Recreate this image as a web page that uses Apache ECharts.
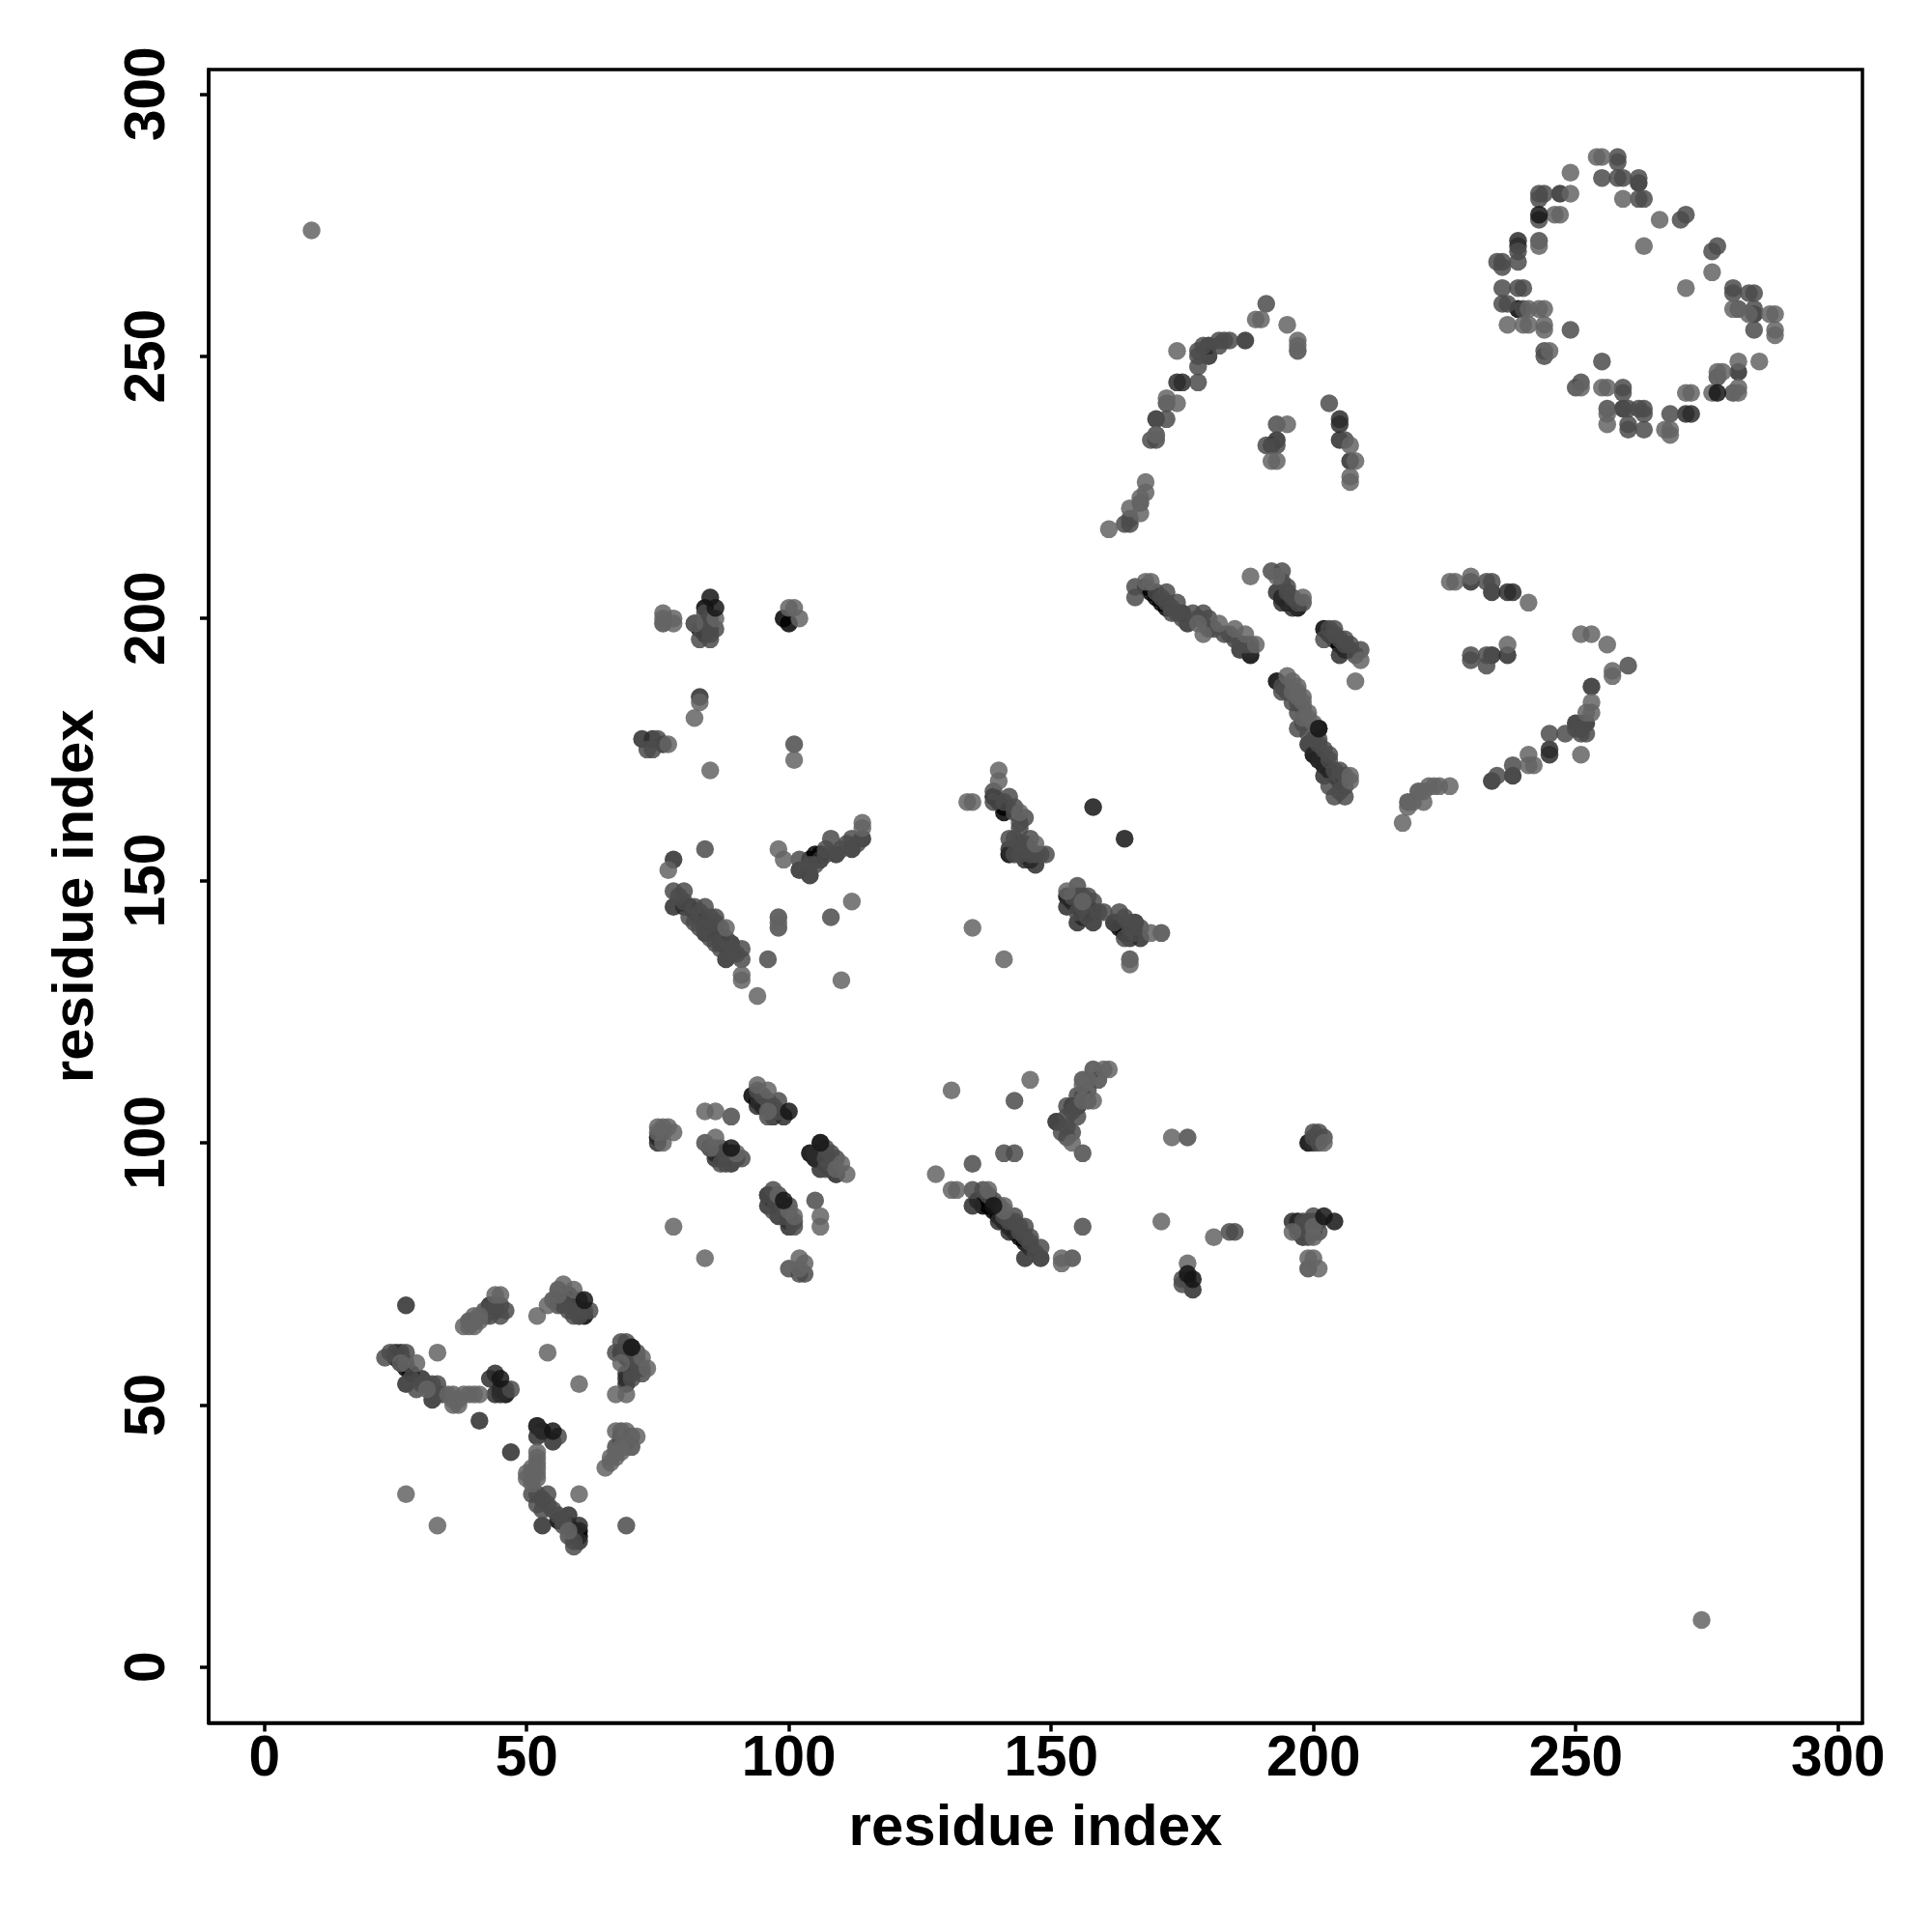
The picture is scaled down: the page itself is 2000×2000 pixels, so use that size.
<!DOCTYPE html>
<html>
<head>
<meta charset="utf-8">
<style>html,body{margin:0;padding:0;background:#fff}#c{width:2000px;height:2000px}</style>
<script src="https://cdn.jsdelivr.net/npm/echarts@6/dist/echarts.min.js"></script>
</head>
<body>
<div id="c"></div>
<script>
var axisTitle = 'residue index';
var tickValues = [0, 50, 100, 150, 200, 250, 300];

var stripePoints = [
[26,58],[27,57],[28,56],[25,59],[43,69],[58,70],[59,69],[60,68],[61,67],[68,60],[69,59],[70,58],[71,57],[45,53],[46,52],[52,46],[53,45],[68,44],[69,43],[56,28],[58,27],[60,25],[59,26],[60,26],
[85,99],[86,98],[87,97],[88,97],[89,98],[93,109],[94,108],[95,107],[97,106],[104,98],[105,97],[107,96],[108,95],[109,94],[96,90],[97,89],[98,88],[99,87],[100,86],[75,101],
[136,89],[137,88],[138,88],[139,87],[140,86],[141,85],[142,84],[143,83],[144,82],[145,81],[154,107],[155,107],[151,104],[197,85],[197,84],[198,83],[199,100],
[84,202],[83,198],[84,197],[82,199],[99,200],[100,199],
[81,145],[82,144],[83,143],[84,142],[85,141],[86,140],[87,139],[87,138],[104,154],[105,155],[106,155],
[139,166],[140,165],[141,164],[141,163],[142,155],[144,156],[145,155],[146,154],[153,147],[154,146],[155,145],[156,144],[156,143],[157,145],[158,144],[162,142],[163,141],[164,140],[165,140],
[168,206],[169,205],[170,204],[171,203],[172,202],[194,204],[195,203],[196,203],[197,202],[202,198],[203,197],[204,196],[205,195],[206,194],[193,188],[200,174],[201,173],[202,172],[203,171],[204,170],[205,169],[188,193],[239,259]
];

var darkPoints = [
[27,69],[41,47],[47,41],[43,68],[44,68],[44,56],[43,55],[44,52],[45,52],[46,53],[52,44],[55,43],[52,46],[25,60],[26,60],[27,54],[32,51],[30,55],[53,27],[60,27],[60,24],[58,29],
[69,54],[69,55],[69,56],[68,60],[60,67],[57,71],[58,71],[56,70],[75,100],[86,97],[89,96],[94,109],[94,107],[97,105],[99,105],[105,98],[105,97],[106,95],[96,88],[98,86],[100,84],[100,85],
[135,88],[140,85],[142,83],[145,78],[148,78],[146,80],[176,74],[177,72],[199,84],[198,82],[200,100],[196,85],
[83,185],[72,177],[74,177],[76,176],[78,154],[78,145],[80,145],[89,138],[88,135],[84,140],[102,152],[104,151],[106,154],[109,155],[112,156],[114,158],
[142,156],[145,154],[147,153],[153,145],[155,142],[158,142],[165,139],[167,139],[166,142],[193,205],[194,203],[196,202],[205,193],[207,194],[186,194],[188,194],[175,201],[176,199],[201,179],[199,176],[201,173],[202,170],
[230,207],[234,205],[237,205],[238,205],[253,187],[252,180],[250,180],[245,175],[245,174],[238,170],[234,169],[234,193],[237,193],
[187,253],[180,252],[180,250],[174,245],[175,245],[170,238],[205,238],[205,237],[205,234],[207,230],[193,234],[192,233],
[239,272],[239,271],[247,281],[262,283],[259,240],[271,239],[272,239],[281,247],[284,258]
];

var midPoints = [
[69,27],[45,69],[46,68],[45,67],[39,66],[40,66],[42,67],[42,68],[56,72],[55,70],[57,69],[59,67],[60,67],[62,68],[47,53],[56,44],[24,60],[27,60],[27,58],[23,59],[32,54],[33,54],[29,53],[34,52],[54,33],[54,31],[51,33],[56,29],[59,23],
[28,55],[30,54],[31,54],[32,52],[33,52],[53,32],[53,30],[52,33],[52,31],[55,30],[57,27],[58,25],[59,24],[57,28],[60,70],[57,70],[56,69],[58,68],[59,68],[61,68],[43,69],[44,69],[43,67],[68,43],[67,42],[68,45],[70,44],[70,42],[70,61],[69,62],[71,60],[70,59],[71,58],[72,57],[70,56],[70,55],
[68,62],[67,60],[69,60],[72,56],[71,59],[89,105],[84,100],[86,99],[88,96],[91,97],[98,108],[97,91],[96,90],[105,89],[106,100],[108,98],[100,76],[102,75],[103,75],
[87,99],[88,98],[87,96],[90,97],[94,110],[95,109],[96,108],[97,107],[98,106],[96,105],[107,99],[109,97],[107,97],[108,96],[107,95],[109,94],[98,90],[99,88],[100,88],[97,87],[99,86],[101,85],[101,84],
[143,108],[135,96],[141,98],[143,98],[156,84],[154,78],[156,98],[176,101],[135,91],[137,91],[143,86],[145,84],[148,80],[153,107],[155,109],[154,106],[153,105],[151,104],[152,102],[154,102],[158,114],[156,112],[159,112],[175,74],[175,73],[184,83],[185,83],[198,84],[200,102],[202,101],[199,76],[200,86],
[138,90],[139,89],[140,88],[141,86],[142,85],[143,85],[144,84],[144,83],[145,82],[146,82],[146,81],[147,79],[155,107],[156,109],[157,110],[157,108],[155,105],[153,103],[153,101],[198,85],[197,83],[199,85],[201,85],[201,83],[199,82],[200,85],[200,83],[201,102],[200,101],[201,100],
[101,176],[85,198],[83,196],[85,196],[76,199],[73,175],[74,175],[75,177],[84,156],[112,158],[108,158],[102,154],[104,153],[108,143],[98,143],[98,141],[96,135],[91,137],[91,135],[78,148],[80,148],[84,145],[86,143],[82,142],
[85,197],[84,199],[85,200],[84,201],[85,199],[86,198],[76,102],[103,152],[105,153],[107,155],[107,156],[110,156],[111,157],[113,157],[79,147],[80,146],[82,145],[83,144],[85,143],[86,142],[87,141],[88,139],[89,137],[90,136],[85,139],[86,138],[87,137],[83,141],[84,141],[81,143],[89,136],
[139,165],[139,167],[142,166],[141,165],[143,164],[144,160],[142,158],[146,158],[149,155],[148,155],[155,149],[160,144],[157,147],[164,143],[163,144],[162,142],[171,140],[165,135],
[143,163],[144,161],[145,162],[143,158],[144,157],[145,157],[146,156],[147,155],[143,155],[144,155],[146,155],[154,147],[155,147],[156,147],[155,144],[156,145],[157,143],[158,146],[159,144],[165,142],[165,141],[166,140],[164,139],[167,141],
[166,206],[166,204],[172,205],[174,203],[177,201],[179,201],[192,209],[194,209],[195,206],[202,196],[206,196],[204,198],[209,194],[201,177],[203,174],[204,166],[206,166],[194,186],[197,182],[197,179],
[170,205],[171,204],[172,203],[173,202],[173,201],[174,201],[175,200],[178,200],[180,200],[180,198],[181,198],[183,197],[184,197],[185,196],[186,195],[187,195],[188,195],[194,207],[195,205],[196,204],[197,203],[198,203],[203,198],[204,197],[205,196],[206,195],[207,195],[208,193],[194,187],[195,187],[195,186],[196,184],[197,184],[198,183],[198,180],[199,178],[200,177],[201,176],[202,175],[203,173],[204,171],[205,171],[206,170],[205,170],[206,168],[205,167],[203,168],
[233,207],[234,207],[245,178],[248,178],[252,178],[238,172],[235,170],[233,191],[233,193],[230,193],[230,192],[260,191],[218,165],[220,167],
[251,178],[251,180],[251,179],[250,179],
[191,260],[184,253],[183,253],[182,253],[182,252],[178,251],[179,252],[178,250],[178,248],[178,245],[172,238],[170,235],[169,234],[170,234],[172,241],[167,222],[165,219],[165,218],[164,218],[203,241],[206,234],[193,237],[191,233],[193,233],[197,251],
[243,281],[244,281],[243,280],[243,276],[243,272],[239,270],[236,268],[235,268],[236,267],[239,268],[236,263],[240,263],[239,263],[236,260],[237,260],[240,259],[249,255],[244,250],[244,251],[251,245],[250,244],[259,244],[259,243],[258,288],[258,287],[255,284],[258,284],[259,284],[262,284],[263,280],[262,280],[270,276],[271,277],[276,270],[277,271],[280,263],[280,262],[283,262],[284,262],[284,259],[284,255],[281,259],[256,240],[260,240],[262,240],[263,240],[263,239],[260,237],[260,236],[263,236],[268,239],[277,246],[280,243],[255,249]
];

var lightPoints = [
[33,60],[54,60],[60,54],[27,33],[33,27],[60,33],[67,52],[52,67],[44,71],[45,71],[38,65],[39,65],[40,65],[41,66],[40,67],[41,67],[54,69],[56,71],[57,73],[59,72],[29,58],[26,58],[31,53],[35,52],[36,52],[36,50],[37,50],[38,52],[39,52],[40,52],[41,52],
[37,51],[36,51],[51,37],[51,38],[52,37],[52,40],[51,36],
[52,41],[52,39],[52,38],[52,36],[50,37],[50,36],[51,35],[58,26],[71,44],[67,45],[69,45],[65,38],[66,39],[66,40],[67,40],[68,41],[69,42],[67,41],[68,42],[72,59],[73,57],[68,58],[69,52],
[78,84],[84,78],[84,106],[86,106],[75,103],[76,103],[77,103],[78,102],[75,102],[76,100],[86,101],[85,99],[90,98],[94,111],[96,110],[96,106],[101,86],[100,87],[110,96],[111,94],[109,95],[106,86],[106,84],[102,78],[103,77],[102,76],[98,90],
[131,110],[146,112],[128,94],[131,91],[132,91],[138,91],[141,88],[141,87],[152,77],[152,78],[173,101],[171,85],[181,82],[176,77],[161,114],[160,114],[157,112],[158,108],[156,108],[156,111],[154,100],[196,83],[200,84],[200,82],[199,78],[200,78],[201,76],[202,100],
[100,202],[101,202],[102,200],[86,200],[82,199],[76,201],[78,200],[78,199],[76,200],[83,184],[82,181],[77,176],[85,171],[101,173],
[77,152],[98,156],[99,154],[114,161],[114,160],[112,146],[110,131],[91,132],[91,131],[94,128],[88,141],[98,142],
[140,171],[140,169],[134,165],[135,165],[144,163],[147,157],[135,141],[141,135],[169,140],[165,134],[156,146],[153,148],
[188,208],[193,208],[198,204],[208,188],[209,192],[168,207],[169,207],[182,199],[185,198],[187,197],[189,195],[179,197],[178,199],[195,189],[197,187],[198,185],[199,182],[207,170],[207,169],
[196,188],[196,186],[197,186],[197,185],[198,184],[199,181],[198,181],[200,180],
[226,207],[227,207],[230,208],[241,203],[251,197],[253,197],[256,195],[257,190],[257,189],[253,184],[252,182],[253,182],[251,174],[241,174],[242,172],[241,172],[226,168],[224,168],[223,168],[222,168],[221,167],[221,165],[219,165],[218,164],[217,161],[237,195],
[189,257],[190,257],[195,256],[197,253],[197,252],[174,251],[172,242],[174,241],[170,235],[168,226],[168,224],[167,223],[165,221],[167,220],[161,217],[207,233],[208,230],[207,227],[207,226],[195,237],[192,230],[193,230],
[254,288],[255,288],[249,285],[249,281],[259,280],[246,277],[247,277],[266,276],[263,271],[243,271],[276,266],[271,263],[244,259],[243,259],[241,259],[237,256],[240,256],[241,256],[244,256],[244,255],[283,258],[287,258],[288,258],[288,255],[288,254],[245,251],[281,249],[285,249],[277,247],[278,247],[281,244],[281,243],[255,244],[256,244],[271,243],[272,243],[276,243],[256,239],[256,237],[267,236],[268,236],[268,235],[280,259],[251,244],
[9,274],[274,9]
];

var topPoints = [
[45,55],[55,45],[70,61],[61,70],[89,99],[99,89],[100,106],[106,100],[85,204],[86,202],[139,88],[204,85],[202,86],[158,164],[164,158],[201,179],[243,277],[277,243],[176,75],[177,74]
];

var grays = {stripe:'#000000', dark:'#2b2b2b', mid:'#4b4b4b', light:'#646464', top:'#151515'};

function scatter(data, color) {
  return {type:'scatter', data:data, symbol:'circle', symbolSize:18.5, itemStyle:{color:color, opacity:0.85}, silent:true};
}
function axis(extra) {
  return Object.assign({
    type:'value', min:-10.62, max:304.66, splitLine:{show:false},
    axisLine:{show:true, onZero:false, lineStyle:{color:'#000', width:3.5}},
    axisTick:{show:true, length:9, customValues:tickValues, lineStyle:{color:'#000', width:3.5}},
    name:axisTitle, nameLocation:'middle',
    nameTextStyle:{fontFamily:'Liberation Sans', fontWeight:'bold', fontSize:60, color:'#000'}
  }, extra);
}
var labelStyle = {show:true, customValues:tickValues, fontFamily:'Liberation Sans', fontWeight:'bold', fontSize:58.5, color:'#000', hideOverlap:false, showMinLabel:true, showMaxLabel:true};

var chart = echarts.init(document.getElementById('c'), null, {renderer:'canvas'});
chart.setOption({
  animation:false, backgroundColor:'#fff',
  grid:{left:216, top:72, right:72, bottom:216.5, show:true, borderColor:'#000', borderWidth:3.5, backgroundColor:'transparent'},
  xAxis:axis({nameGap:80, axisLabel:Object.assign({}, labelStyle, {margin:9})}),
  yAxis:axis({nameGap:107, axisLabel:Object.assign({}, labelStyle, {margin:33, rotate:90})}),
  series:[
    scatter(stripePoints, grays.stripe),
    scatter(darkPoints, grays.dark),
    scatter(midPoints, grays.mid),
    scatter(lightPoints, grays.light),
    scatter(topPoints, grays.top)
  ]
});
</script>
</body>
</html>
